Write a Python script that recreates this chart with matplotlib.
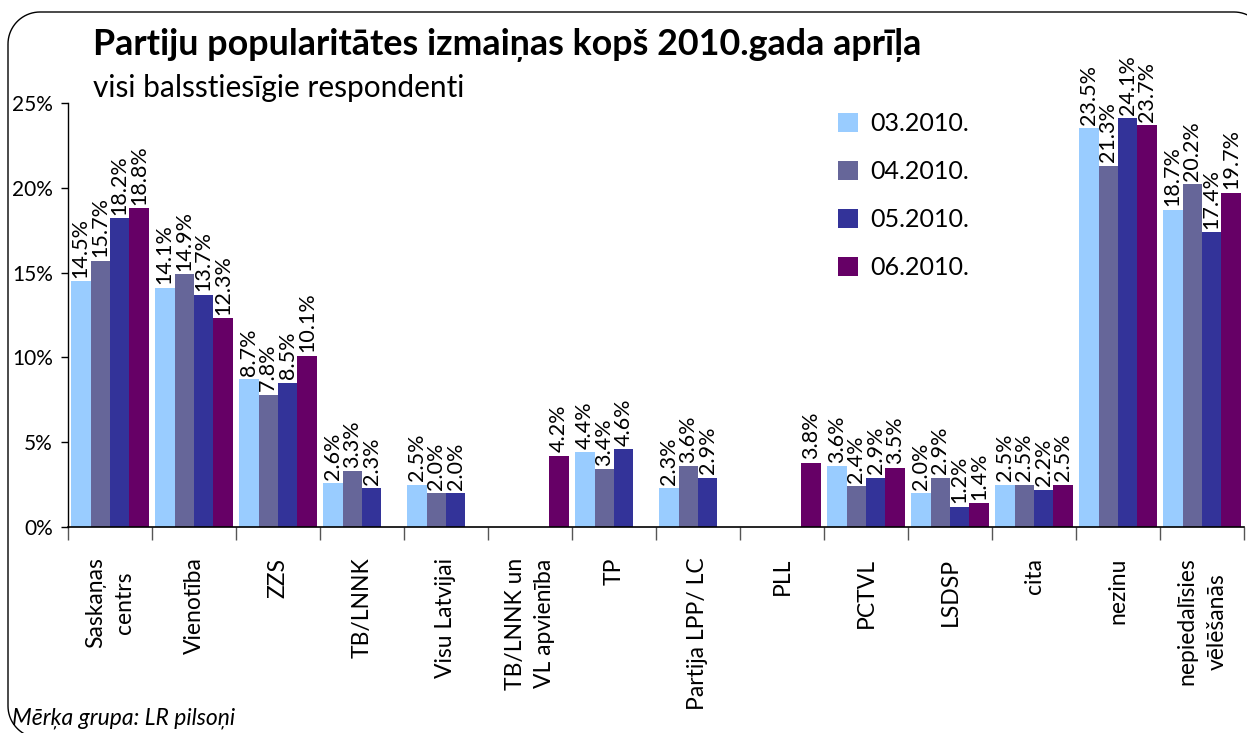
import numpy as np
import matplotlib
matplotlib.use("Agg")
import matplotlib.pyplot as plt
from matplotlib.patches import PathPatch
from matplotlib.path import Path
from matplotlib.ticker import FixedLocator

plt.rcParams['font.family'] = ['Lato', 'DejaVu Sans']

categories = ["Saskaņas\ncentrs", "Vienotība", "ZZS", "TB/LNNK", "Visu Latvijai",
              "TB/LNNK un\nVL apvienība", "TP", "Partija LPP/ LC", "PLL", "PCTVL",
              "LSDSP", "cita", "nezinu", "nepiedalīsies\nvēlēšanās"]
nan = np.nan
s_03 = [14.5, 14.1, 8.7, 2.6, 2.5, nan, 4.4, 2.3, nan, 3.6, 2.0, 2.5, 23.5, 18.7]
s_04 = [15.7, 14.9, 7.8, 3.3, 2.0, nan, 3.4, 3.6, nan, 2.4, 2.9, 2.5, 21.3, 20.2]
s_05 = [18.2, 13.7, 8.5, 2.3, 2.0, nan, 4.6, 2.9, nan, 2.9, 1.2, 2.2, 24.1, 17.4]
s_06 = [18.8, 12.3, 10.1, nan, nan, 4.2, nan, nan, 3.8, 3.5, 1.4, 2.5, 23.7, 19.7]
series_names = ["03.2010.", "04.2010.", "05.2010.", "06.2010."]
yticks = [0, 5, 10, 15, 20, 25]
ytick_labels = ["0%", "5%", "10%", "15%", "20%", "25%"]

colors = ["#99CCFF", "#666699", "#333399", "#660066"]

W, H = 1247, 733
fig = plt.figure(figsize=(W / 100, H / 100), dpi=100)
fig.patch.set_facecolor("white")

# rounded frame in pixel coords (origin top-left); right/bottom edges fall outside the image
fx0, fy0, fx1, fy1, rad = 8, 12, 1266, 738, 32
pts = []
def arc(cx, cy, a0, a1):
    for a in np.linspace(a0, a1, 20):
        pts.append((cx + rad * np.cos(a), cy - rad * np.sin(a)))
arc(fx0 + rad, fy0 + rad, np.pi, np.pi / 2)          # top-left
arc(fx1 - rad, fy0 + rad, np.pi / 2, 0)              # top-right
arc(fx1 - rad, fy1 - rad, 0, -np.pi / 2)             # bottom-right
arc(fx0 + rad, fy1 - rad, -np.pi / 2, -np.pi)        # bottom-left
pts.append(pts[0])
pts = np.array(pts)
frame_path = Path(np.column_stack([pts[:, 0] / W, 1 - pts[:, 1] / H]))
fig.patches.append(PathPatch(frame_path, transform=fig.transFigure, facecolor="none",
                             edgecolor="black", linewidth=1.0, zorder=0))

ax = fig.add_axes([68 / W, 1 - 527 / H, (1244 - 68) / W, (527 - 103) / H])
ax.set_facecolor("none")

x = np.arange(len(categories))
bw = 0.232
all_series = [s_03, s_04, s_05, s_06]
for i, (vals, name, col) in enumerate(zip(all_series, series_names, colors)):
    vals = np.array(vals, dtype=float)
    pos = x + (i - 1.5) * bw
    ax.bar(pos, vals, width=bw, color=col, label=name, linewidth=0)
    for p, v in zip(pos, vals):
        if not np.isnan(v):
            ax.text(p, v + 0.2, f"{v:.1f}%", rotation=90, ha="center", va="bottom",
                    fontsize=15.5, color="black")

ax.set_xlim(-0.5, len(categories) - 0.5)
ax.set_ylim(0, 25)
ax.set_yticks(yticks)
ax.set_yticklabels(ytick_labels, fontsize=15)
ax.tick_params(axis="y", direction="out", length=5, width=1, pad=6)

ax.xaxis.set_major_locator(FixedLocator(np.arange(len(categories) + 1) - 0.5))
ax.set_xticklabels([""] * (len(categories) + 1))
ax.xaxis.set_minor_locator(FixedLocator(x))
ax.set_xticklabels(categories, minor=True, rotation=90, fontsize=16.5,
                   ha="center", va="top", multialignment="center", linespacing=1.5)
ax.tick_params(axis="x", which="major", direction="out", length=9, width=1, color="#555555")
ax.tick_params(axis="x", which="minor", length=0, pad=22)

for sp in ["top", "right"]:
    ax.spines[sp].set_visible(False)
ax.spines["left"].set_linewidth(1)
ax.spines["bottom"].set_linewidth(1.2)

leg = ax.legend(loc="upper left", bbox_to_anchor=((823 - 68) / (1244 - 68), 1.0 + 6 / 424),
                frameon=False, fontsize=18, handlelength=0.8, handleheight=0.8,
                handletextpad=0.5, labelspacing=1.0, borderaxespad=0.2)

fig.text(93 / W, 1 - 45 / H, "Partiju popularitātes izmaiņas kopš 2010.gada aprīļa",
         fontsize=25.8, fontweight="bold", ha="left", va="center")
fig.text(93 / W, 1 - 88 / H, "visi balsstiesīgie respondenti",
         fontsize=21.5, ha="left", va="center")
fig.text(12 / W, 1 - 718 / H, "Mērķa grupa: LR pilsoņi", fontsize=16.5, style="italic",
         ha="left", va="center")

fig.savefig("out.png", dpi=100)
